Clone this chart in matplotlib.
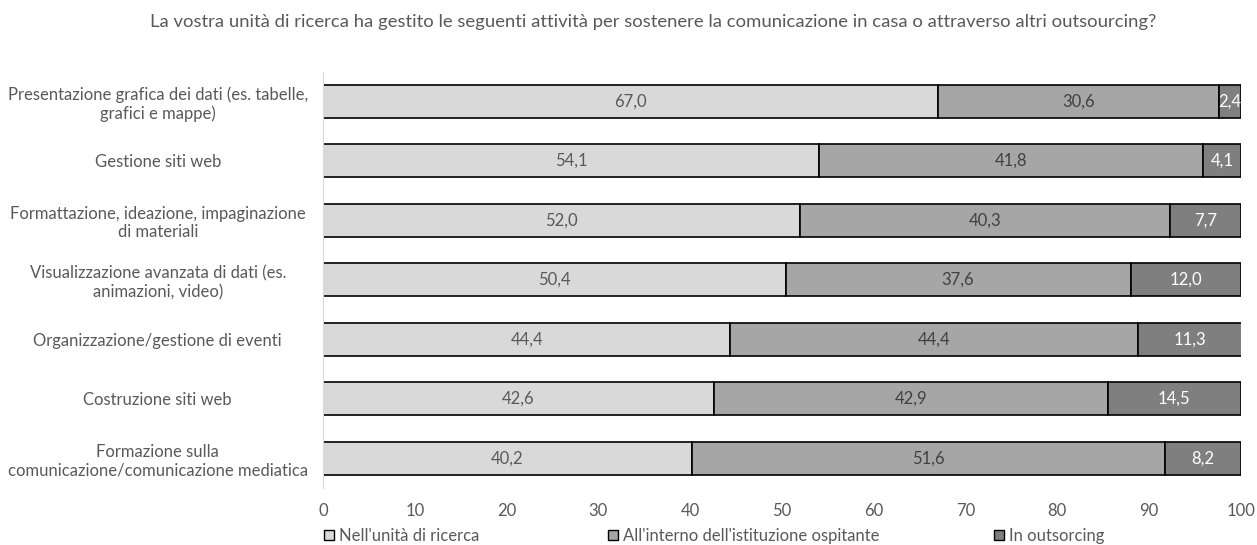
import matplotlib.pyplot as plt
import numpy as np
from matplotlib.patches import Patch

plt.rcParams['font.family'] = ['Lato', 'DejaVu Sans']

categories = [
    'Presentazione grafica dei dati (es. tabelle,\ngrafici e mappe)',
    'Gestione siti web',
    'Formattazione, ideazione, impaginazione\ndi materiali',
    'Visualizzazione avanzata di dati (es.\nanimazioni, video)',
    'Organizzazione/gestione di eventi',
    'Costruzione siti web',
    'Formazione sulla\ncomunicazione/comunicazione mediatica',
]
nell_unita = [67.0, 54.1, 52.0, 50.4, 44.4, 42.6, 40.2]
istituzione = [30.6, 41.8, 40.3, 37.6, 44.4, 42.9, 51.6]
outsourcing = [2.4, 4.1, 7.7, 12.0, 11.3, 14.5, 8.2]
series_names = ["Nell'unità di ricerca",
                "All'interno dell'istituzione ospitante",
                'In outsorcing']
colors = ['#d9d9d9', '#a6a6a6', '#7f7f7f']
text_colors = ['#595959', '#404040', 'white']

fig = plt.figure(figsize=(12.57, 5.45), dpi=100)
ax = fig.add_axes([0.257, 0.1046, 0.73, 0.764])

y = np.arange(len(categories))
left = np.zeros(len(categories))
for vals, col, tcol in zip([nell_unita, istituzione, outsourcing], colors, text_colors):
    vals = np.array(vals)
    ax.barh(y, vals, left=left, height=0.56, color=col,
            edgecolor='black', linewidth=1.2)
    for yi, l, v in zip(y, left, vals):
        ax.text(l + v / 2, yi, f'{v:.1f}'.replace('.', ','), ha='center',
                va='center', fontsize=12, color=tcol)
    left += vals

ax.set_ylim(len(categories) - 0.5, -0.5)
ax.set_xlim(0, 100)
ax.set_xticks(range(0, 101, 10))
ax.set_yticks(y)
ax.set_yticklabels(categories, fontsize=12, color='#595959', ha='center',
                   linespacing=1.2)
ax.tick_params(axis='y', length=0, pad=119)
ax.tick_params(axis='x', length=0, labelsize=12, labelcolor='#595959', pad=11)
for s in ['top', 'right', 'bottom']:
    ax.spines[s].set_visible(False)
ax.spines['left'].set_color('#d9d9d9')

fig.text(0.52, 0.96, 'La vostra unità di ricerca ha gestito le seguenti attività per '
         'sostenere la comunicazione in casa o attraverso altri outsourcing?',
         ha='center', va='center', fontsize=13.3, color='#595959')

handles = [Patch(facecolor=c, edgecolor='black', linewidth=1.0) for c in colors]
xs = [0.258, 0.484, 0.791]
for h, name, x in zip(handles, series_names, xs):
    fig.legend([h], [name], loc='center left', bbox_to_anchor=(x, 0.017),
               frameon=False, fontsize=12, handlelength=0.6, handleheight=0.6,
               handletextpad=0.3, labelcolor='#595959', borderpad=0, borderaxespad=0)

fig.savefig('out.png', dpi=100)
